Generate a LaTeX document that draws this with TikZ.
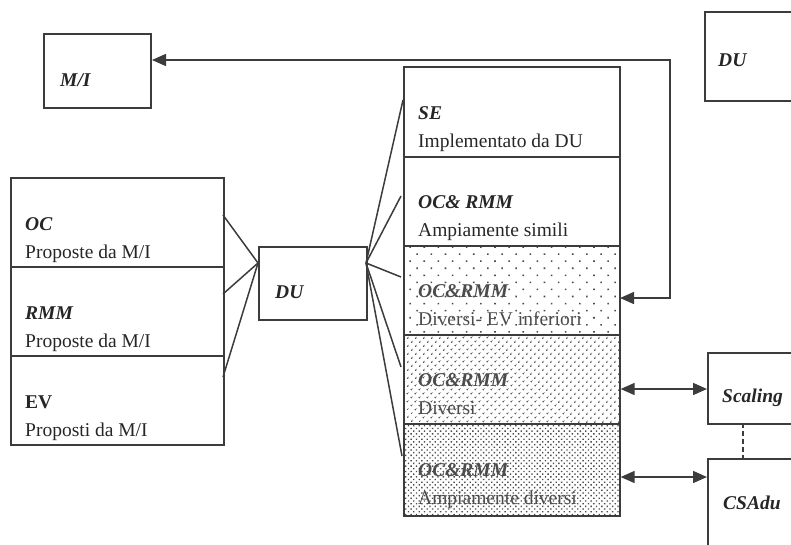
\documentclass[tikz,border=0pt]{standalone}
\usepackage{fontspec}
\setmainfont{Liberation Serif}
\usetikzlibrary{arrows.meta,patterns.meta}
\definecolor{linec}{HTML}{3C3C3C}
\definecolor{dotc}{HTML}{4A4A4A}
\tikzset{
  box/.style={draw=linec, line width=1.6pt, inner sep=0pt, anchor=north west},
  lbl/.style={inner sep=0pt, anchor=base west, text=black!85,
              font=\fontsize{19.5}{22}\selectfont},
  ttl/.style={lbl, font=\fontsize{19.5}{22}\selectfont\bfseries\itshape},
  faint/.style={text=black!70},
  link/.style={draw=linec, line width=1.5pt},
  bitip/.style={link, arrows={Triangle[length=14pt,width=12pt]-Triangle[length=14pt,width=12pt]}},
  sparse/.style={pattern={Dots[distance=10pt, radius=1.1pt, angle=45]}, pattern color=dotc},
  medium/.style={pattern={Dots[distance=5.4pt, radius=1pt, angle=45]}, pattern color=dotc},
  dense/.style={pattern={Dots[distance=3.8pt, radius=0.95pt, angle=45]}, pattern color=dotc},
}
\begin{document}
\begin{tikzpicture}[x=1pt, y=-1pt]
\useasboundingbox (0,0) rectangle (791,544);
\clip (0,0) rectangle (791,544);

% M/I box and the DU box in the top corner
\node[box, minimum width=107pt, minimum height=74pt] (mi) at (43,33) {};
\node[ttl] (mitxt) at (60,86) {M/I};
\node[box, minimum width=110pt, minimum height=89pt] (dutop) at (704,11) {};
\node[ttl] (dutoptxt) at (718,66) {DU};

% left stack
\node[box, minimum width=213pt, minimum height=89pt] (l1) at (10,177) {};
\node[box, minimum width=213pt, minimum height=89pt] (l2) at (10,266) {};
\node[box, minimum width=213pt, minimum height=89pt] (l3) at (10,355) {};
\node[ttl] (l1a) at (25,230) {OC};
\node[lbl] (l1b) at (25,258) {Proposte da M/I};
\node[ttl] (l2a) at (25,319) {RMM};
\node[lbl] (l2b) at (25,347) {Proposte da M/I};
\node[lbl, font=\fontsize{19.5}{22}\selectfont\bfseries] (l3a) at (25,408) {EV};
\node[lbl] (l3b) at (25,436) {Proposti da M/I};

% central DU box
\node[box, minimum width=108pt, minimum height=73pt] (du) at (258,246) {};
\node[ttl] (dutxt) at (275,298) {DU};

% right stack with dotted fills
\fill[sparse] (403,245) rectangle (619,334);
\fill[medium] (403,334) rectangle (619,423);
\fill[dense] (403,423) rectangle (619,515);
\node[box, minimum width=216pt, minimum height=90pt] (s1) at (403,66) {};
\node[box, minimum width=216pt, minimum height=89pt] (s2) at (403,156) {};
\node[box, minimum width=216pt, minimum height=89pt] (s3) at (403,245) {};
\node[box, minimum width=216pt, minimum height=89pt] (s4) at (403,334) {};
\node[box, minimum width=216pt, minimum height=92pt] (s5) at (403,423) {};
\node[ttl] (s1a) at (418,119) {SE};
\node[lbl] (s1b) at (418,147) {Implementato da DU};
\node[ttl] (s2a) at (418,208) {OC\& RMM};
\node[lbl] (s2b) at (418,236) {Ampiamente simili};
\node[ttl, faint] (s3a) at (418,297) {OC\&RMM};
\node[lbl, faint] (s3b) at (418,325) {Diversi- EV inferiori};
\node[ttl, faint] (s4a) at (418,386) {OC\&RMM};
\node[lbl, faint] (s4b) at (418,414) {Diversi};
\node[ttl, faint] (s5a) at (418,476) {OC\&RMM};
\node[lbl, faint] (s5b) at (418,504) {Ampiamente diversi};

% Scaling and CSAdu boxes
\node[box, minimum width=100pt, minimum height=71pt] (sc) at (707,352) {};
\node[ttl] (sctxt) at (722,402) {Scaling};
\node[box, minimum width=100pt, minimum height=100pt] (csa) at (707,458) {};
\node[ttl] (csatxt) at (723,509) {CSAdu};

% fan-in lines to the central DU
\coordinate (duL) at (258,263);
\coordinate (duR) at (366,263);
\coordinate (la) at (223,215);
\coordinate (lb) at (223,294);
\coordinate (lc) at (223,377);
\draw[link] (la) -- (duL);
\draw[link] (lb) -- (duL);
\draw[link] (lc) -- (duL);

% fan-out lines to the right stack
\coordinate (ra) at (403,100);
\coordinate (rb) at (401,196);
\coordinate (rc) at (401,277);
\coordinate (rd) at (401,367);
\coordinate (re) at (402,456);
\draw[link] (duR) -- (ra);
\draw[link] (duR) -- (rb);
\draw[link] (duR) -- (rc);
\draw[link] (duR) -- (rd);
\draw[link] (duR) -- (re);

% feedback loop between M/I and the third section
\coordinate (fbA) at (152,60);
\coordinate (fbB) at (620,298);
\coordinate (fbC) at (670,60);
\draw[bitip] (fbB) -- (fbB -| fbC) -- (fbC) -- (fbA);

% links to Scaling and CSAdu
\coordinate (scW) at (707,389);
\coordinate (csW) at (707,477);
\draw[bitip] (scW -| s4.east) -- (scW);
\draw[bitip] (csW -| s5.east) -- (csW);
\coordinate (dashTop) at (743,423);
\coordinate (dashBot) at (743,458);
\draw[link, dashed, dash pattern=on 5pt off 3pt] (dashTop) -- (dashBot);
\end{tikzpicture}
\end{document}
